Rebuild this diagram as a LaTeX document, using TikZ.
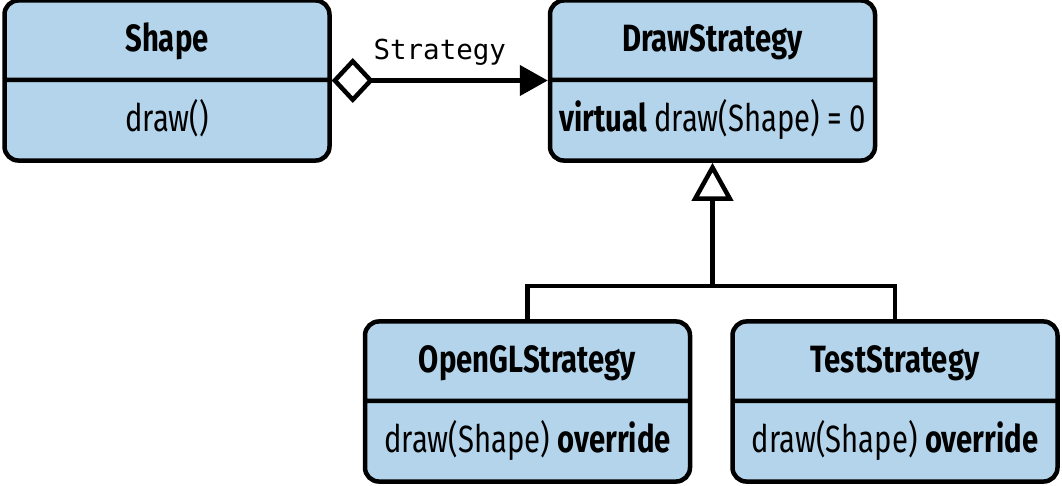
\documentclass[tikz,border=0pt]{standalone}
\usepackage{fontspec}
\setmainfont{Fira Sans}[FakeStretch=0.77]
\setmonofont{DejaVu Sans Mono}
\usetikzlibrary{shapes.multipart,arrows.meta,positioning,calc}
\definecolor{clsblue}{RGB}{179,212,234}
% strut for each compartment, with tighter word space
\newcommand\cstrut{\spaceskip=7pt plus 2pt\relax\rule[-9pt]{0pt}{40pt}}

\begin{document}
\begin{tikzpicture}[x=1pt, y=1pt, line width=4.5pt,
    cls/.style={rectangle split, rectangle split parts=2, draw, fill=clsblue, rounded corners=14pt,
        text width=325pt, inner xsep=0pt, inner ysep=17.5pt, align=center,
        font=\fontsize{38}{40}\selectfont},
    lbl/.style={font=\ttfamily\fontsize{27.5}{30}\selectfont, inner sep=0pt}]

    \useasboundingbox (0,0) rectangle (1062,-486);

    \node[cls] (shape) at (167,-80.5) {\cstrut\textbf{Shape}\nodepart{second}\cstrut draw()};
    \node[cls, right=216pt of shape] (strat) {\cstrut\textbf{DrawStrategy}\nodepart{second}\cstrut\textbf{virtual} draw(Shape) = 0};

    \foreach \n/\x/\t in {ogl/527.5/OpenGLStrategy, test/895/TestStrategy}{
        \node[cls] (\n) at (\x,-401.5) {\cstrut\textbf{\t}\nodepart{second}\cstrut draw(Shape) \textbf{override}};
    }

    % aggregation
    \draw[{Diamond[open,fill=white,length=42pt,width=45pt]}-{Triangle[length=28pt,width=30pt]}]
        (shape.east) -- node[lbl, above=13pt] {Strategy} (strat.west);

    % inheritance
    \coordinate (joint) at ($(strat.south)+(0,-123)$);
    \draw[-{Triangle[open,fill=white,length=38pt,width=41pt]}] (joint) -- (strat.south);
    \draw (ogl.north) |- (joint) -| (test.north);

\end{tikzpicture}
\end{document}
